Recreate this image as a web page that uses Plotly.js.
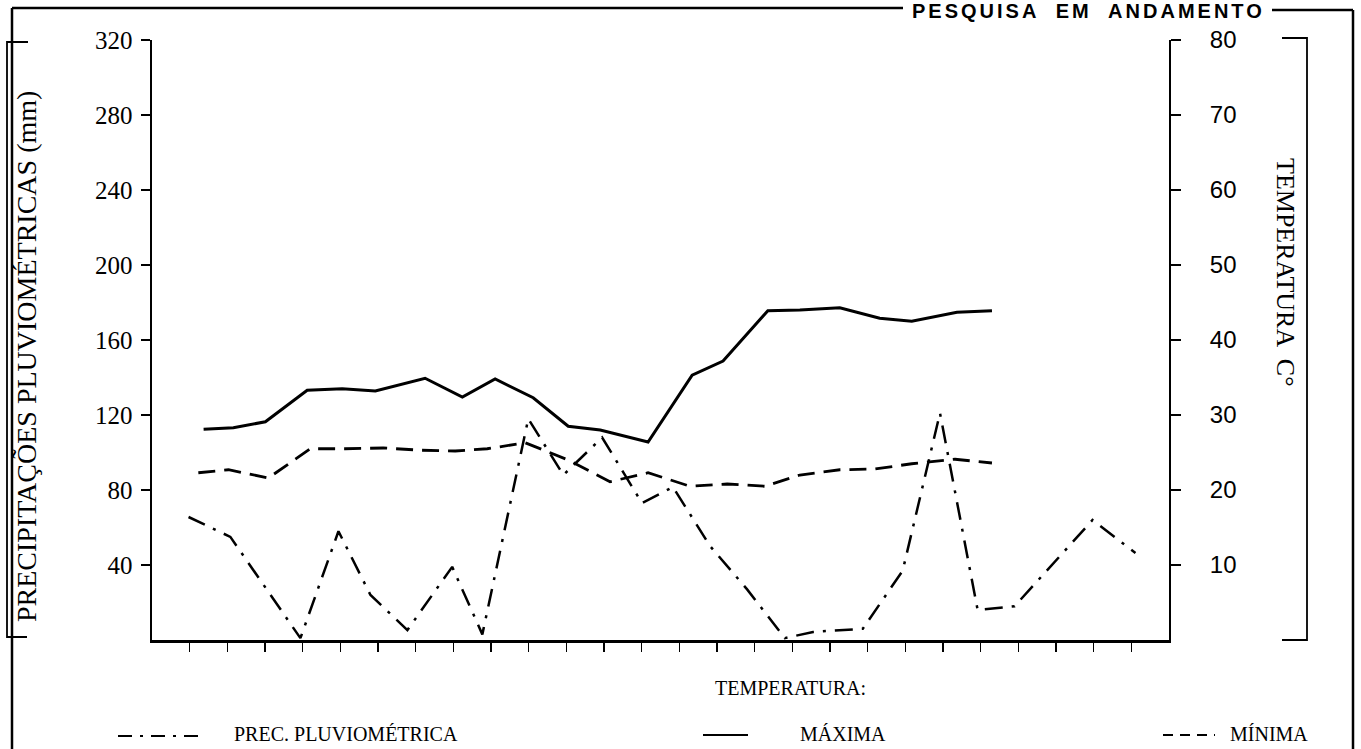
<!DOCTYPE html>
<html>
<head>
<meta charset="utf-8">
<script src="https://cdn.plot.ly/plotly-3.0.1.min.js"></script>
<style>html,body{margin:0;padding:0;background:#fff;}#chart{width:1361px;height:749px;}</style>
</head>
<body>
<div id="chart"></div>
<script>
// ---- data ----
// x positions are in units of the x-axis tick interval (ticks at 1..26)
const precipX  = [0.97, 2.08, 3.94, 4.95, 5.80, 6.78, 7.97, 8.77, 9.99, 10.92, 11.95, 13.01, 13.83, 14.82, 15.80, 16.80, 17.55, 18.87, 19.93, 20.92, 21.92, 22.90, 24.97, 26.11];
const precipMm = [65.6, 55, 1, 58, 24, 5.3, 39, 3, 118, 88, 108, 73, 81.6, 50, 27, 1, 4.3, 6, 37, 121, 16, 18, 64, 46.4];

const maxX = [1.37, 2.16, 3.01, 4.12, 5.05, 5.93, 7.25, 8.24, 9.11, 10.12, 11.05, 11.90, 13.17, 14.34, 15.16, 16.35, 17.20, 18.26, 19.32, 20.17, 21.37, 22.30];
const maxC = [28.1, 28.3, 29.1, 33.3, 33.5, 33.2, 34.9, 32.4, 34.8, 32.3, 28.5, 28.0, 26.4, 35.3, 37.2, 43.9, 44.0, 44.3, 42.9, 42.5, 43.7, 43.9];

const minX = [1.23, 2.03, 3.09, 4.20, 5.13, 6.14, 7.15, 8.05, 8.90, 9.91, 11.05, 12.16, 13.17, 14.28, 15.27, 16.27, 17.20, 18.26, 19.19, 20.17, 21.32, 22.30];
const minC = [22.3, 22.7, 21.6, 25.5, 25.5, 25.6, 25.3, 25.2, 25.5, 26.3, 24.0, 21.1, 22.3, 20.5, 20.8, 20.5, 22.0, 22.7, 22.8, 23.5, 24.1, 23.6];

const xTicks = [1,2,3,4,5,6,7,8,9,10,11,12,13,14,15,16,17,18,19,20,21,22,23,24,25,26];
const precipTicks = [40, 80, 120, 160, 200, 240, 280, 320];
const tempTicks = [10, 20, 30, 40, 50, 60, 70, 80];

const leftTitle = "PRECIPITAÇÕES PLUVIOMÉTRICAS (mm)";
const rightTitle = "TEMPERATURA  C°";
const legendHeader = "TEMPERATURA:";
const seriesNames = ["PREC. PLUVIOMÉTRICA", "MÁXIMA", "MÍNIMA"];
const stamp = "PESQUISA  EM  ANDAMENTO";

// ---- layout geometry ----
const W = 1361, H = 749;
const M = {l: 152, r: 192, t: 40, b: 109};
const PW = W - M.l - M.r, PH = H - M.t - M.b;
const px = x => (x - M.l) / PW;          // pixel -> paper x
const py = y => (H - M.b - y) / PH;      // pixel -> paper y

const ink = '#000';
const dashMin = '17px,9px';
const dashPrec = '18px,9px,3px,9px';

const traces = [
  {x: precipX, y: precipMm, name: seriesNames[0], type: 'scatter', mode: 'lines', yaxis: 'y',
   line: {color: ink, width: 2.5, dash: dashPrec}},
  {x: maxX, y: maxC, name: seriesNames[1], type: 'scatter', mode: 'lines', yaxis: 'y2',
   line: {color: ink, width: 3}},
  {x: minX, y: minC, name: seriesNames[2], type: 'scatter', mode: 'lines', yaxis: 'y2',
   line: {color: ink, width: 2.8, dash: dashMin}}
];

function seg(x0, y0, x1, y1, w, dash) {
  return {type: 'line', xref: 'paper', yref: 'paper', x0: px(x0), y0: py(y0), x1: px(x1), y1: py(y1),
          line: {color: ink, width: w, dash: dash || 'solid'}};
}
function pth(points, w) {
  const d = points.map((p, i) => (i ? 'L' : 'M') + px(p[0]) + ',' + py(p[1])).join(' ');
  return {type: 'path', xref: 'paper', yref: 'paper', path: d, line: {color: ink, width: w}};
}

const shapes = [
  // outer frame
  seg(12, 8, 903, 8, 2.5),
  seg(1272, 10, 1353, 10, 2.5),
  seg(12, 8, 12, 749, 2.5),
  seg(1353, 10, 1353, 749, 2.5),
  // brackets around axis titles
  pth([[28, 42], [7, 42], [7, 637], [27, 637]], 1.8),
  pth([[1282, 38], [1307, 38], [1307, 640], [1282, 640]], 1.8),
  // legend samples
  seg(118, 736, 205, 736, 2.2, '14px,8px,3px,8px'),
  seg(703, 735, 748, 735, 2.2),
  seg(1163, 735, 1215, 735, 2.2, '10px,7px')
];

function txt(text, x, y, opts) {
  return Object.assign({text: text, xref: 'paper', yref: 'paper', x: px(x), y: py(y), showarrow: false,
    xanchor: 'left', yanchor: 'middle', font: {family: 'Liberation Serif, serif', size: 20, color: ink}}, opts || {});
}

const annotations = [
  txt(leftTitle, 26, 357, {xanchor: 'center', textangle: -90, font: {family: 'Liberation Serif, serif', size: 28, color: ink}}),
  txt(rightTitle, 1286, 272, {xanchor: 'center', textangle: 90, font: {family: 'Liberation Serif, serif', size: 26, color: ink}}),
  txt('<span style="letter-spacing:3px">' + stamp + '</span>', 1088, 11,
      {xanchor: 'center', font: {family: 'Liberation Sans, Arial, sans-serif', size: 20, color: ink, weight: 'bold'}}),
  txt(legendHeader, 713, 688),
  txt(seriesNames[0], 232, 734),
  txt(seriesNames[1], 798, 734),
  txt(seriesNames[2], 1228, 734)
];

const layout = {
  width: W, height: H, margin: M,
  paper_bgcolor: '#fff', plot_bgcolor: '#fff',
  showlegend: false,
  xaxis: {range: [0, 27], tickvals: xTicks, showticklabels: false, ticks: 'outside', ticklen: 9, tickwidth: 1.6,
          tickcolor: ink, showline: true, linecolor: ink, linewidth: 3, showgrid: false, zeroline: false, fixedrange: true},
  yaxis: {range: [0, 320], tickvals: precipTicks, ticks: 'outside', ticklen: 9, tickwidth: 1.6, tickcolor: ink,
          showline: true, linecolor: ink, linewidth: 1.6, showgrid: false, zeroline: false, fixedrange: true,
          ticklabelstandoff: 4, tickfont: {family: 'Liberation Serif, serif', size: 25, color: ink}},
  yaxis2: {range: [0, 80], tickvals: tempTicks, overlaying: 'y', side: 'right', ticks: 'outside', ticklen: 10,
           tickwidth: 1.6, tickcolor: ink, showline: true, linecolor: ink, linewidth: 2, showgrid: false,
           zeroline: false, fixedrange: true, ticklabelstandoff: 24,
           tickfont: {family: 'Liberation Sans, Arial, sans-serif', size: 24, color: ink}},
  shapes: shapes,
  annotations: annotations
};

Plotly.newPlot('chart', traces, layout, {displayModeBar: false, staticPlot: true});
</script>
</body>
</html>
